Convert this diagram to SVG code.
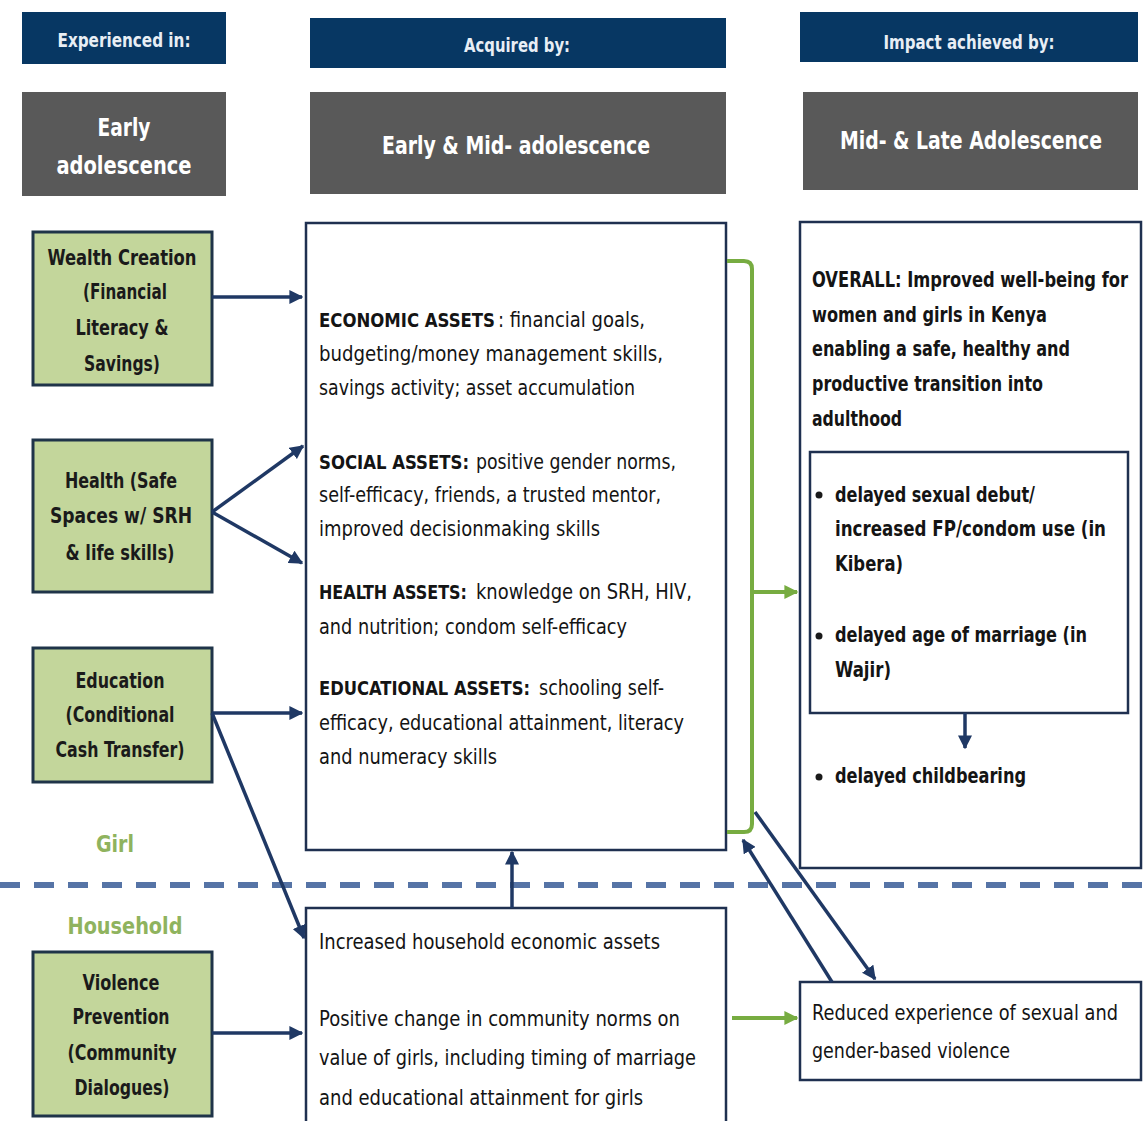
<svg xmlns="http://www.w3.org/2000/svg" width="1146" height="1121" viewBox="0 0 1146 1121">
  <style>
    text { font-family: "Liberation Sans Narrow", "DejaVu Sans Condensed", "Liberation Sans", sans-serif; }
    .hdr { fill: #073763; }
    .hdr-t { fill: #e8eef5; font-size: 19px; font-weight: bold; text-anchor: middle; }
    .stage { fill: #595959; }
    .stage-t { fill: #ffffff; font-size: 25px; font-weight: bold; text-anchor: middle; }
    .prog { fill: #c3d69b; stroke: #1f3449; stroke-width: 3; }
    .prog-t { fill: #1a1a1a; font-size: 21px; font-weight: bold; text-anchor: middle; }
    .box { fill: #ffffff; stroke: #1f3050; stroke-width: 2.5; }
    .body { fill: #141414; font-size: 21px; }
    .b { font-weight: bold; }
    .lbl { font-size: 19px; font-weight: bold; }
    .lvl { fill: #8fb35e; font-size: 23px; font-weight: bold; text-anchor: middle; }
    .arr { fill: none; stroke: #1f3864; stroke-width: 3.5; marker-end: url(#ah); }
    .grn { fill: none; stroke: #77ac41; stroke-width: 4; }
  </style>
  <defs>
    <marker id="ah" viewBox="0 0 10 10" refX="9" refY="5" markerWidth="4" markerHeight="4" orient="auto" markerUnits="strokeWidth">
      <path d="M0,0 L10,5 L0,10 Z" fill="#1f3864"/>
    </marker>
    <marker id="ahg" viewBox="0 0 10 10" refX="9" refY="5" markerWidth="3.5" markerHeight="3.5" orient="auto" markerUnits="strokeWidth">
      <path d="M0,0 L10,5 L0,10 Z" fill="#77ac41"/>
    </marker>
  </defs>

  <rect width="1146" height="1121" fill="#ffffff"/>

  <!-- column headers -->
  <g id="header-experienced">
    <rect class="hdr" x="22" y="12" width="204" height="52"/>
    <text class="hdr-t" x="124" y="47" textLength="133" lengthAdjust="spacingAndGlyphs">Experienced in:</text>
  </g>
  <g id="header-acquired">
    <rect class="hdr" x="310" y="18" width="416" height="50"/>
    <text class="hdr-t" x="517" y="52" textLength="106" lengthAdjust="spacingAndGlyphs">Acquired by:</text>
  </g>
  <g id="header-impact">
    <rect class="hdr" x="800" y="12" width="338" height="50"/>
    <text class="hdr-t" x="969" y="49" textLength="171" lengthAdjust="spacingAndGlyphs">Impact achieved by:</text>
  </g>

  <g id="stage-early">
    <rect class="stage" x="22" y="92" width="204" height="104"/>
    <text class="stage-t" x="124" y="136" textLength="53" lengthAdjust="spacingAndGlyphs">Early</text>
    <text class="stage-t" x="124" y="174" textLength="135" lengthAdjust="spacingAndGlyphs">adolescence</text>
  </g>
  <g id="stage-early-mid">
    <rect class="stage" x="310" y="92" width="416" height="102"/>
    <text class="stage-t" x="516" y="154" textLength="268" lengthAdjust="spacingAndGlyphs">Early &amp; Mid- adolescence</text>
  </g>
  <g id="stage-mid-late">
    <rect class="stage" x="803" y="92" width="335" height="98"/>
    <text class="stage-t" x="971" y="149" font-size="23" textLength="262" lengthAdjust="spacingAndGlyphs">Mid- &amp; Late Adolescence</text>
  </g>

  <!-- programme components -->
  <g id="prog-wealth">
    <rect class="prog" x="33" y="232" width="179" height="153"/>
    <text class="prog-t" x="122" y="265" textLength="149" lengthAdjust="spacingAndGlyphs">Wealth Creation</text>
    <text class="prog-t" x="125" y="299" textLength="84" lengthAdjust="spacingAndGlyphs">(Financial</text>
    <text class="prog-t" x="122" y="335" textLength="93" lengthAdjust="spacingAndGlyphs">Literacy &amp;</text>
    <text class="prog-t" x="122" y="371" textLength="76" lengthAdjust="spacingAndGlyphs">Savings)</text>
  </g>
  <g id="prog-health">
    <rect class="prog" x="33" y="440" width="179" height="152"/>
    <text class="prog-t" x="121" y="488" textLength="112" lengthAdjust="spacingAndGlyphs">Health (Safe</text>
    <text class="prog-t" x="121" y="523" textLength="142" lengthAdjust="spacingAndGlyphs">Spaces w/ SRH</text>
    <text class="prog-t" x="120" y="560" textLength="109" lengthAdjust="spacingAndGlyphs">&amp; life skills)</text>
  </g>
  <g id="prog-education">
    <rect class="prog" x="33" y="648" width="179" height="134"/>
    <text class="prog-t" x="120" y="688" textLength="89" lengthAdjust="spacingAndGlyphs">Education</text>
    <text class="prog-t" x="120" y="722" textLength="109" lengthAdjust="spacingAndGlyphs">(Conditional</text>
    <text class="prog-t" x="120" y="757" textLength="129" lengthAdjust="spacingAndGlyphs">Cash Transfer)</text>
  </g>
  <g id="prog-violence">
    <rect class="prog" x="33" y="952" width="179" height="164"/>
    <text class="prog-t" x="121" y="990" textLength="77" lengthAdjust="spacingAndGlyphs">Violence</text>
    <text class="prog-t" x="121" y="1024" textLength="97" lengthAdjust="spacingAndGlyphs">Prevention</text>
    <text class="prog-t" x="122" y="1060" textLength="109" lengthAdjust="spacingAndGlyphs">(Community</text>
    <text class="prog-t" x="122" y="1095" textLength="95" lengthAdjust="spacingAndGlyphs">Dialogues)</text>
  </g>

  <!-- level labels and divider -->
  <g id="levels">
    <text class="lvl" x="115" y="852" textLength="38" lengthAdjust="spacingAndGlyphs">Girl</text>
    <line x1="0" y1="885" x2="1146" y2="885" stroke="#5674a6" stroke-width="6" stroke-dasharray="20 14"/>
    <text class="lvl" x="125" y="934" textLength="115" lengthAdjust="spacingAndGlyphs">Household</text>
  </g>

  <!-- assets acquired -->
  <g id="assets">
    <rect class="box" x="306" y="223" width="420" height="627"/>
    <text class="body lbl" x="319" y="327" textLength="176" lengthAdjust="spacingAndGlyphs">ECONOMIC ASSETS</text>
    <text class="body" x="498" y="327" textLength="147" lengthAdjust="spacingAndGlyphs">: financial goals,</text>
    <text class="body" x="319" y="361" textLength="344" lengthAdjust="spacingAndGlyphs">budgeting/money management skills,</text>
    <text class="body" x="319" y="395" textLength="316" lengthAdjust="spacingAndGlyphs">savings activity; asset accumulation</text>
    <text class="body lbl" x="319" y="469" textLength="150" lengthAdjust="spacingAndGlyphs">SOCIAL ASSETS:</text>
    <text class="body" x="476" y="469" textLength="200" lengthAdjust="spacingAndGlyphs">positive gender norms,</text>
    <text class="body" x="319" y="502" textLength="342" lengthAdjust="spacingAndGlyphs">self-efficacy, friends, a trusted mentor,</text>
    <text class="body" x="319" y="536" textLength="281" lengthAdjust="spacingAndGlyphs">improved decisionmaking skills</text>
    <text class="body lbl" x="319" y="599" textLength="148" lengthAdjust="spacingAndGlyphs">HEALTH ASSETS:</text>
    <text class="body" x="476" y="599" textLength="216" lengthAdjust="spacingAndGlyphs">knowledge on SRH, HIV,</text>
    <text class="body" x="319" y="634" textLength="308" lengthAdjust="spacingAndGlyphs">and nutrition; condom self-efficacy</text>
    <text class="body lbl" x="319" y="695" textLength="211" lengthAdjust="spacingAndGlyphs">EDUCATIONAL ASSETS:</text>
    <text class="body" x="539" y="695" textLength="125" lengthAdjust="spacingAndGlyphs">schooling self-</text>
    <text class="body" x="319" y="730" textLength="365" lengthAdjust="spacingAndGlyphs">efficacy, educational attainment, literacy</text>
    <text class="body" x="319" y="764" textLength="178" lengthAdjust="spacingAndGlyphs">and numeracy skills</text>
  </g>

  <!-- impact -->
  <g id="impact">
    <rect class="box" x="800" y="222" width="341" height="646" stroke-width="3"/>
    <text class="body b" x="812" y="287" textLength="316" lengthAdjust="spacingAndGlyphs">OVERALL:  Improved well-being for</text>
    <text class="body b" x="812" y="322" textLength="235" lengthAdjust="spacingAndGlyphs">women and girls in Kenya</text>
    <text class="body b" x="812" y="356" textLength="258" lengthAdjust="spacingAndGlyphs">enabling a safe, healthy and</text>
    <text class="body b" x="812" y="391" textLength="231" lengthAdjust="spacingAndGlyphs">productive transition into</text>
    <text class="body b" x="812" y="426" textLength="90" lengthAdjust="spacingAndGlyphs">adulthood</text>
  </g>
  <g id="impact-outcomes">
    <rect class="box" x="810" y="452" width="318" height="261"/>
    <circle cx="819" cy="495" r="3.5" fill="#1a1a1a"/>
    <text class="body b" x="835" y="502" textLength="200" lengthAdjust="spacingAndGlyphs">delayed sexual debut/</text>
    <text class="body b" x="835" y="536" textLength="271" lengthAdjust="spacingAndGlyphs">increased FP/condom use (in</text>
    <text class="body b" x="835" y="571" textLength="68" lengthAdjust="spacingAndGlyphs">Kibera)</text>
    <circle cx="819" cy="636" r="3.5" fill="#1a1a1a"/>
    <text class="body b" x="835" y="642" textLength="252" lengthAdjust="spacingAndGlyphs">delayed age of marriage (in</text>
    <text class="body b" x="835" y="677" textLength="56" lengthAdjust="spacingAndGlyphs">Wajir)</text>
  </g>
  <g id="impact-childbearing">
    <circle cx="819" cy="777" r="3.5" fill="#1a1a1a"/>
    <text class="body b" x="835" y="783" textLength="191" lengthAdjust="spacingAndGlyphs">delayed childbearing</text>
  </g>

  <!-- household-level outcomes -->
  <g id="household">
    <rect class="box" x="306" y="908" width="420" height="220"/>
    <text class="body" x="319" y="949" textLength="341" lengthAdjust="spacingAndGlyphs">Increased household economic assets</text>
    <text class="body" x="319" y="1026" textLength="361" lengthAdjust="spacingAndGlyphs">Positive change in community norms on</text>
    <text class="body" x="319" y="1065" textLength="377" lengthAdjust="spacingAndGlyphs">value of girls, including timing of marriage</text>
    <text class="body" x="319" y="1105" textLength="324" lengthAdjust="spacingAndGlyphs">and educational attainment for girls</text>
  </g>
  <g id="violence-outcome">
    <rect class="box" x="800" y="982" width="341" height="98" stroke-width="3"/>
    <text class="body" x="812" y="1020" textLength="306" lengthAdjust="spacingAndGlyphs">Reduced experience of sexual and</text>
    <text class="body" x="812" y="1058" textLength="198" lengthAdjust="spacingAndGlyphs">gender-based violence</text>
  </g>

  <!-- connectors -->
  <g id="connectors">
    <path class="arr" d="M212,297 L302,297"/>
    <path class="arr" d="M212,512 L303,446"/>
    <path class="arr" d="M212,512 L302,563"/>
    <path class="arr" d="M212,713 L302,713"/>
    <path class="arr" d="M212,713 L304,938"/>
    <path class="arr" d="M212,1033 L302,1033"/>
    <path class="arr" d="M512,908 L512,852"/>
    <path class="arr" d="M965,713 L965,748" stroke-width="3"/>
    <path class="arr" d="M755,812 L875,979"/>
    <path class="arr" d="M832,982 L743,840"/>
    <!-- green bracket gathering all assets into impact -->
    <path class="grn" d="M727,261 L744,261 Q752,261 752,269 L752,824 Q752,832 744,832 L727,832"/>
    <path class="grn" d="M752,592 L797,592" marker-end="url(#ahg)"/>
    <path class="grn" d="M732,1018 L797,1018" marker-end="url(#ahg)"/>
  </g>
</svg>
